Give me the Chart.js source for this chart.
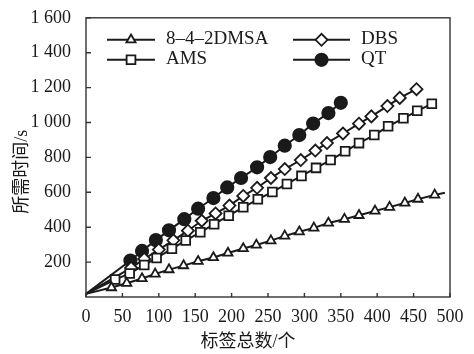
<!DOCTYPE html>
<html>
<head>
<meta charset="utf-8">
<script src="https://cdn.jsdelivr.net/npm/chart.js@4.4.0/dist/chart.umd.min.js"></script>
<style>
  html, body { margin: 0; padding: 0; background: #fff; }
</style>
</head>
<body>
<canvas id="chart" width="474" height="354"></canvas>
<script>
const xTitle = "标签总数/个";
const yTitle = "所需时间/s";
const xTicks = [0, 50, 100, 150, 200, 250, 300, 350, 400, 450, 500];
const yTicks = [200, 400, 600, 800, 1000, 1200, 1400, 1600];

// 8-4-2DMSA (last point is the end of the line, no marker)
const dmsaX = [0, 35, 56, 77, 95, 114, 134, 154, 175, 195, 216, 234, 254, 273, 293, 313, 333, 355, 375, 397, 417, 438, 456, 479, 493];
const dmsaY = [18, 54, 79, 106, 132, 157, 180, 205, 226, 252, 278, 298, 323, 350, 374, 396, 424, 446, 468, 493, 515, 539, 561, 585, 598];
// AMS
const amsX = [0, 40, 60, 80, 97, 118, 137, 157, 176, 196, 216, 236, 256, 276, 296, 316, 336, 356, 375, 396, 415, 436, 455, 475];
const amsY = [18, 100, 135, 183, 224, 276, 324, 371, 417, 466, 514, 560, 602, 648, 694, 740, 785, 835, 882, 928, 978, 1024, 1067, 1107];
// DBS
const dbsX = [0, 62, 80, 100, 120, 140, 159, 178, 197, 216, 235, 254, 273, 295, 315, 331, 353, 375, 392, 414, 431, 454];
const dbsY = [18, 167, 218, 272, 325, 380, 437, 479, 524, 579, 626, 682, 733, 785, 839, 882, 937, 993, 1035, 1094, 1141, 1191];
// QT
const qtX = [0, 61, 77, 96, 114, 135, 154, 175, 194, 213, 235, 253, 273, 293, 312, 333, 350];
const qtY = [18, 209, 264, 326, 382, 446, 506, 567, 628, 682, 743, 802, 867, 928, 994, 1054, 1113];

const serif = '"Liberation Serif", "Times New Roman", "Noto Sans CJK SC", serif';
const ink = "#1a1a1a";

function pts(xs, ys) {
  return xs.map((x, i) => ({ x: x, y: ys[i] }));
}

// first point is the origin of the line; it has no marker
function radii(xs, r, openEnd) {
  return xs.map((_, i) => (i === 0 || (openEnd && i === xs.length - 1)) ? 0 : r);
}

const series = [
  { label: "8–4–2DMSA", data: pts(dmsaX, dmsaY), style: "triangle", r: 5.3, fill: "#fff", radius: radii(dmsaX, 5.3, true) },
  { label: "AMS", data: pts(amsX, amsY), style: "rect", r: 6.2, fill: "#fff", radius: radii(amsX, 6.2) },
  { label: "DBS", data: pts(dbsX, dbsY), style: "rectRot", r: 6, fill: "#fff", radius: radii(dbsX, 6) },
  { label: "QT", data: pts(qtX, qtY), style: "circle", r: 6.2, fill: ink, radius: radii(qtX, 6.2) }
];

// legend slots: [column, row]
const legendSlots = [[0, 0], [0, 1], [1, 0], [1, 1]];

const framePlugin = {
  id: "frame",
  afterDraw(chart) {
    const { ctx, chartArea: a, scales } = chart;
    ctx.save();
    ctx.strokeStyle = "#333";
    ctx.lineWidth = 1.4;
    ctx.strokeRect(a.left, a.top, a.right - a.left, a.bottom - a.top);

    // inward tick marks
    ctx.beginPath();
    scales.x.ticks.forEach(t => {
      const px = scales.x.getPixelForValue(t.value);
      ctx.moveTo(px, a.bottom);
      ctx.lineTo(px, a.bottom - 4);
    });
    scales.y.ticks.forEach(t => {
      const py = scales.y.getPixelForValue(t.value);
      ctx.moveTo(a.left, py);
      ctx.lineTo(a.left + 5, py);
    });
    ctx.stroke();

    // axis titles
    ctx.fillStyle = ink;
    ctx.font = "18px " + serif;
    ctx.textAlign = "center";
    ctx.textBaseline = "middle";
    ctx.fillText(xTitle, a.left + 162, a.bottom + 45);
    ctx.save();
    ctx.translate(22, a.top + 154);
    ctx.rotate(-Math.PI / 2);
    ctx.fillText(yTitle, 0, 0);
    ctx.restore();

    // legend
    ctx.font = "19px " + serif;
    ctx.textAlign = "left";
    series.forEach((s, i) => {
      const [col, row] = legendSlots[i];
      const x1 = a.left + (col ? 207 : 21);
      const x2 = a.left + (col ? 264 : 69);
      const y = a.top + 22 + row * 20;
      ctx.strokeStyle = ink;
      ctx.lineWidth = 2;
      ctx.beginPath();
      ctx.moveTo(x1, y);
      ctx.lineTo(x2, y);
      ctx.stroke();
      ctx.fillStyle = s.fill;
      ctx.lineWidth = 1.8;
      Chart.helpers.drawPoint(ctx, { pointStyle: s.style, radius: s.r, rotation: 0, borderWidth: 1.8 }, (x1 + x2) / 2, y);
      ctx.fillStyle = ink;
      ctx.fillText(s.label, x2 + 11, y - 1);
    });
    ctx.restore();
  }
};

new Chart(document.getElementById("chart"), {
  type: "line",
  data: {
    datasets: series.map(s => ({
      label: s.label,
      data: s.data,
      borderColor: ink,
      borderWidth: 2,
      pointStyle: s.style,
      pointRadius: s.radius,
      pointBackgroundColor: s.fill,
      pointBorderColor: ink,
      pointBorderWidth: 1.8,
      tension: 0,
      clip: false
    }))
  },
  options: {
    responsive: false,
    animation: false,
    devicePixelRatio: 1,
    layout: { padding: { top: 9, right: 24, left: 0, bottom: 0 } },
    plugins: { legend: { display: false }, tooltip: { enabled: false } },
    scales: {
      x: {
        type: "linear",
        min: 0,
        max: 500,
        afterBuildTicks: scale => { scale.ticks = xTicks.map(v => ({ value: v })); },
        ticks: { color: ink, font: { family: serif, size: 18 }, padding: 1, maxRotation: 0, autoSkip: false },
        grid: { display: false },
        border: { display: false },
        afterFit: scale => { scale.height = 57; }
      },
      y: {
        min: 0,
        max: 1600,
        afterBuildTicks: scale => { scale.ticks = yTicks.map(v => ({ value: v })); },
        ticks: {
          color: ink,
          font: { family: serif, size: 18 },
          padding: 7,
          callback: v => v >= 1000 ? Math.floor(v / 1000) + " " + String(v % 1000).padStart(3, "0") : String(v)
        },
        grid: { display: false },
        border: { display: false },
        afterFit: scale => { scale.width = 86; }
      }
    }
  },
  plugins: [framePlugin]
});
</script>
</body>
</html>
